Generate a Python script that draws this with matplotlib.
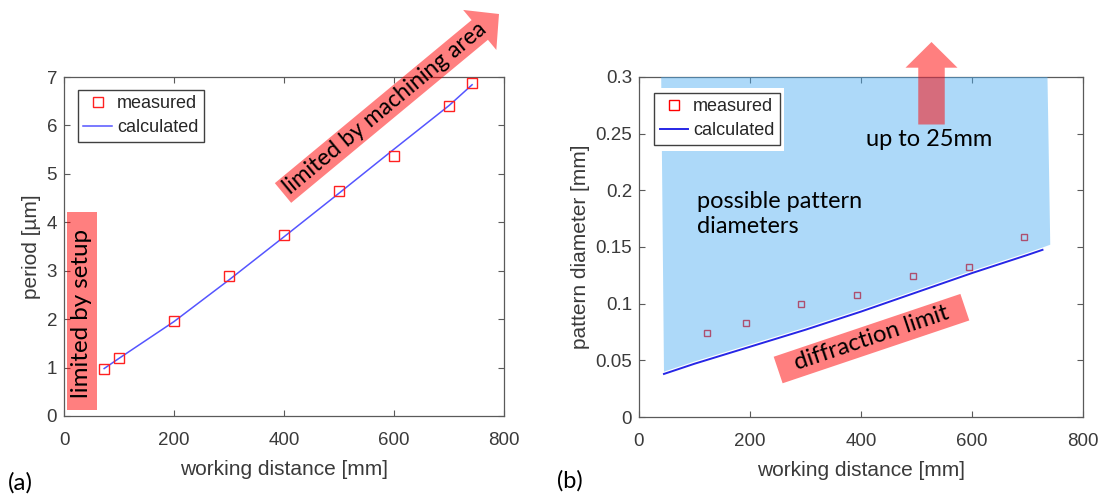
import matplotlib
matplotlib.use('Agg')
import matplotlib.pyplot as plt
import numpy as np
from matplotlib.patches import Polygon, Rectangle
from matplotlib.transforms import IdentityTransform
from matplotlib.font_manager import FontProperties

W, H, DPI = 1106, 497, 100

# ---------------- data: panel (a) ----------------
a_meas_x = [73, 100, 200, 300, 400, 500, 600, 700, 742]
a_meas_y = [0.97, 1.20, 1.96, 2.90, 3.73, 4.65, 5.37, 6.40, 6.88]
a_calc_x = [73, 100, 200, 300, 400, 500, 600, 700, 742]
a_calc_y = [0.98, 1.19, 1.95, 2.81, 3.70, 4.60, 5.51, 6.41, 6.84]
a_yticks = [0, 1, 2, 3, 4, 5, 6, 7]

# ---------------- data: panel (b) ----------------
b_meas_x = [122, 193, 292, 393, 493, 594, 693]
b_meas_y = [0.0743, 0.0826, 0.0994, 0.1077, 0.1242, 0.1324, 0.1584]
b_calc_x = [45, 100, 200, 300, 400, 500, 600, 700, 727]
b_calc_y = [0.038, 0.047, 0.062, 0.077, 0.093, 0.110, 0.127, 0.143, 0.1475]
region_top_x = [40, 736]          # x of region corners at y = 0.3
region_end = (741, 0.152)         # lower right corner of region
region_gap = 0.002
b_yticks = [0, 0.05, 0.1, 0.15, 0.2, 0.25, 0.3]
b_yticklabels = ['0', '0.05', '0.1', '0.15', '0.2', '0.25', '0.3']
xticks = [0, 200, 400, 600, 800]

TICKFONT = 'Liberation Sans'
ANNFONT = 'Lato'
SALMON = dict(facecolor='red', alpha=0.5, edgecolor='none')
BLUE_FILL = (76/255, 174/255, 243/255)

fig = plt.figure(figsize=(W/DPI, H/DPI), dpi=DPI)
renderer = fig.canvas.get_renderer()

def fit_size(s, target, family=ANNFONT):
    prop = FontProperties(family=family, size=10)
    w, h, d = renderer.get_text_width_height_descent(s, prop, ismath=False)
    return 10 * target / w

def P(x, y):
    return (x, H - y)

def style(ax):
    ax.set_xlim(0, 800)
    ax.set_xticks(xticks)
    ax.set_xticklabels([str(v) for v in xticks])
    for s in ax.spines.values():
        s.set_color('#5a5a5a')
        s.set_linewidth(0.9)
    ax.tick_params(direction='in', length=4, width=0.8, color='#5a5a5a',
                   labelcolor='#3a3a3a', labelsize=13.5, top=True, right=True)
    ax.tick_params(axis='x', pad=11.5)
    ax.tick_params(axis='y', pad=5)
    for lab in ax.get_xticklabels() + ax.get_yticklabels():
        lab.set_family(TICKFONT)

def make_legend(ax, anchor):
    leg = ax.legend(loc='upper left', bbox_to_anchor=anchor, borderaxespad=0,
                    fancybox=False, framealpha=1, edgecolor='#404040',
                    prop={'family': TICKFONT, 'size': 13}, handlelength=1.6,
                    handletextpad=0.25, borderpad=0.3, labelspacing=0.38)
    leg.get_frame().set_linewidth(1.0)
    for t in leg.get_texts():
        t.set_color('#262626')
    return leg

# ---------------- panel (a) ----------------
ax1 = fig.add_axes([64/W, 1-416/H, 440/W, 339/H])
ax1.plot(a_meas_x, a_meas_y, 's', mfc='none', mec='#ff2020', ms=7.5, mew=1.0,
         label='measured', zorder=3)
ax1.plot(a_calc_x, a_calc_y, '-', color='#5555ff', lw=1.1, label='calculated', zorder=2)
ax1.set_ylim(0, 7)
ax1.set_yticks(a_yticks)
ax1.set_yticklabels([str(v) for v in a_yticks])
style(ax1)
ax1.set_xlabel('working distance [mm]', fontsize=15, color='#3a3a3a',
               family=TICKFONT, labelpad=8)
ax1.set_ylabel('period [µm]', fontsize=15, color='#3a3a3a', family=TICKFONT,
               labelpad=4)
leg1 = make_legend(ax1, (0.032, 0.962))

# ---------------- panel (b) ----------------
ax2 = fig.add_axes([639/W, 1-417/H, 444/W, 340/H])
ax2.plot(b_meas_x, b_meas_y, 's', mfc='none', mec='red', ms=4.8, mew=1.0,
         label='measured', zorder=2)
ax2.plot(b_calc_x, b_calc_y, '-', color='#2626e6', lw=1.4, label='calculated', zorder=2)
reg = [(region_top_x[0], 0.3)]
reg += [(x, y + region_gap) for x, y in zip(b_calc_x, b_calc_y)]
reg += [region_end, (region_top_x[1], 0.3)]
ax2.add_patch(Polygon(reg, closed=True, facecolor=BLUE_FILL, alpha=0.46,
                      edgecolor='none', zorder=3))
ax2.set_ylim(0, 0.3)
ax2.set_yticks(b_yticks)
ax2.set_yticklabels(b_yticklabels)
style(ax2)
ax2.set_xlabel('working distance [mm]', fontsize=15, color='#3a3a3a',
               family=TICKFONT, labelpad=8)
ax2.set_ylabel('pattern diameter [mm]', fontsize=15, color='#3a3a3a',
               family=TICKFONT, labelpad=4)
# white backdrop behind legend
ax2.add_patch(Rectangle(P(651, 151), 133, 63, transform=IdentityTransform(),
                        facecolor='white', edgecolor='none', zorder=4, clip_on=False))
leg2 = make_legend(ax2, (0.034, 0.953))
leg2.set_zorder(5)
leg2.legend_handles[0].set_markersize(7.5)

# ---------------- annotations (figure pixel space) ----------------
def arrow_pts(tail, tip, bw, hw, hl):
    t = np.array(tail, float); p = np.array(tip, float)
    d = p - t; u = d / np.hypot(*d); n = np.array([-u[1], u[0]])
    base = p - u * hl
    pts = [t + n*bw/2, base + n*bw/2, base + n*hw/2, p,
           base - n*hw/2, base - n*bw/2, t - n*bw/2]
    return [P(x, y) for x, y in pts]

def rot_rect(center, length, height, angle_deg):
    c = np.array(center, float)
    a = np.deg2rad(angle_deg)
    u = np.array([np.cos(a), -np.sin(a)]); n = np.array([np.sin(a), np.cos(a)])
    pts = [c - u*length/2 - n*height/2, c + u*length/2 - n*height/2,
           c + u*length/2 + n*height/2, c - u*length/2 + n*height/2]
    return [P(x, y) for x, y in pts]

def add_poly(pts, z=6):
    fig.add_artist(Polygon(pts, closed=True, transform=IdentityTransform(),
                           zorder=z, **SALMON))

def add_text(x, y, s, target, rot=0, ha='center', va='center'):
    fs = fit_size(s, target)
    fig.text(*P(x, y), s, transform=IdentityTransform(), rotation=rot,
             rotation_mode='anchor', ha=ha, va=va, fontsize=fs,
             family=ANNFONT, color='black', zorder=7)

# limited by setup
add_poly([P(67, 410), P(97, 410), P(97, 212), P(67, 212)])
add_text(82, 314, 'limited by setup', 170, rot=90)

# limited by machining area
ang = np.degrees(np.arctan2(193 - 14, 499 - 283))
add_poly(arrow_pts((283, 193), (499, 14), 25.6, 52, 25))
u = np.array([np.cos(np.radians(ang)), -np.sin(np.radians(ang))])
tc = np.array([283, 193]) + u * 133
add_text(tc[0], tc[1], 'limited by machining area', 256, rot=ang)

# up to 25mm arrow
add_poly(arrow_pts((931.5, 124.5), (931.5, 42), 26.5, 52, 25.7))
add_text(866, 146, 'up to 25mm', 127, ha='left', va='baseline')

# possible pattern diameters
add_text(697, 208, 'possible pattern', 166, ha='left', va='baseline')
fs_pp = fit_size('possible pattern', 166)
fig.text(*P(697, 233), 'diameters', transform=IdentityTransform(), ha='left',
         va='baseline', fontsize=fs_pp, family=ANNFONT, color='black', zorder=7)

# diffraction limit
add_poly(rot_rect((871.5, 338.6), 197, 28, 18.6))
add_text(872, 338, 'diffraction limit', 162, rot=18.6)

# panel labels
add_text(20, 483, '(a)', 25)
add_text(570, 481, '(b)', 26)

fig.savefig('out.png', dpi=DPI)
